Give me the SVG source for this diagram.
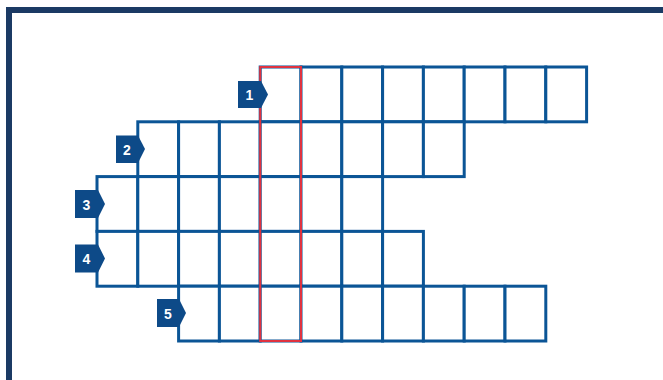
<svg xmlns="http://www.w3.org/2000/svg" width="663" height="380" viewBox="0 0 663 380">
<style>
.cell{fill:#ffffff;stroke:#0b5596;stroke-width:3}
.badge{fill:#0d4a88}
.num{fill:#ffffff;font-family:"Liberation Sans",Arial,sans-serif;font-weight:bold;font-size:14px;text-anchor:middle}
.sol{fill:none;stroke:#e0323f;stroke-width:2}
</style>
<defs>
<rect id="c" class="cell" width="40.8" height="54.8"/>
</defs>
<rect x="0" y="0" width="663" height="380" fill="#ffffff"/>
<rect x="9" y="10" width="700" height="420" fill="none" stroke="#1b3a64" stroke-width="6"/>
<g id="word1">
<use href="#c" x="260.2" y="67"/><use href="#c" x="301" y="67"/><use href="#c" x="341.8" y="67"/><use href="#c" x="382.6" y="67"/><use href="#c" x="423.4" y="67"/><use href="#c" x="464.2" y="67"/><use href="#c" x="505" y="67"/><use href="#c" x="545.8" y="67"/>
</g>
<g id="word2">
<use href="#c" x="137.8" y="121.8"/><use href="#c" x="178.6" y="121.8"/><use href="#c" x="219.4" y="121.8"/><use href="#c" x="260.2" y="121.8"/><use href="#c" x="301" y="121.8"/><use href="#c" x="341.8" y="121.8"/><use href="#c" x="382.6" y="121.8"/><use href="#c" x="423.4" y="121.8"/>
</g>
<g id="word3">
<use href="#c" x="97" y="176.6"/><use href="#c" x="137.8" y="176.6"/><use href="#c" x="178.6" y="176.6"/><use href="#c" x="219.4" y="176.6"/><use href="#c" x="260.2" y="176.6"/><use href="#c" x="301" y="176.6"/><use href="#c" x="341.8" y="176.6"/>
</g>
<g id="word4">
<use href="#c" x="97" y="231.4"/><use href="#c" x="137.8" y="231.4"/><use href="#c" x="178.6" y="231.4"/><use href="#c" x="219.4" y="231.4"/><use href="#c" x="260.2" y="231.4"/><use href="#c" x="301" y="231.4"/><use href="#c" x="341.8" y="231.4"/><use href="#c" x="382.6" y="231.4"/>
</g>
<g id="word5">
<use href="#c" x="178.6" y="286.2"/><use href="#c" x="219.4" y="286.2"/><use href="#c" x="260.2" y="286.2"/><use href="#c" x="301" y="286.2"/><use href="#c" x="341.8" y="286.2"/><use href="#c" x="382.6" y="286.2"/><use href="#c" x="423.4" y="286.2"/><use href="#c" x="464.2" y="286.2"/><use href="#c" x="505" y="286.2"/>
</g>
<g id="solution">
<rect class="sol" x="260.2" y="67" width="40.8" height="274"/>
</g>
<g id="label1">
<polygon class="badge" points="238,81 261,81 268,94.5 261,108 238,108"/>
<text class="num" x="249.5" y="100">1</text>
</g>
<g id="label2">
<polygon class="badge" points="116,135.5 138,135.5 145,149 138,163 116,163"/>
<text class="num" x="127" y="154.5">2</text>
</g>
<g id="label3">
<polygon class="badge" points="75,190 98,190 105,204 98,218 75,218"/>
<text class="num" x="86.5" y="209.5">3</text>
</g>
<g id="label4">
<polygon class="badge" points="75,244.5 98,244.5 105,258.5 98,272.5 75,272.5"/>
<text class="num" x="86.5" y="264">4</text>
</g>
<g id="label5">
<polygon class="badge" points="157,299 179,299 186,313 179,327 157,327"/>
<text class="num" x="168" y="318.5">5</text>
</g>
</svg>
